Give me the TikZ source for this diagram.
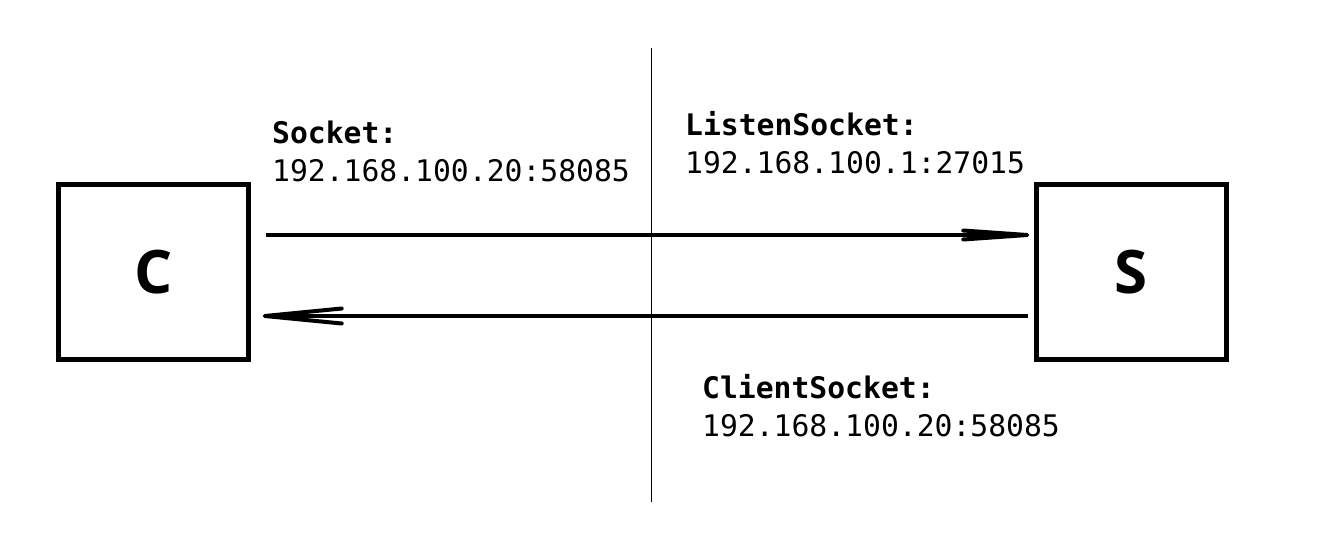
\documentclass[tikz,border=0pt]{standalone}
\usepackage{fontspec}
\setmonofont{DejaVu Sans Mono}
\newfontfamily\hostfont{Open Sans}
\usetikzlibrary{arrows.meta}
\tikzset{
  host/.style={draw,line width=4.5pt,minimum width=190pt,minimum height=175pt,inner sep=0pt,
    font=\hostfont\bfseries\fontsize{60}{60}\selectfont},
  addr/.style={anchor=base west,inner sep=0pt,align=left,
    font=\ttfamily\fontsize{29.7}{38}\selectfont},
  link/.style={line width=4pt}
}

\begin{document}
\begin{tikzpicture}[x=1pt,y=-1pt]
\useasboundingbox (0,0) rectangle (1334,549);
\node[host] (client) at (153.5,272) {C};
\node[host] (server) at (1131.5,272) {S};
\coordinate (divtop) at (651,48);
\coordinate (divbot) at (651,502);
\draw[line width=1pt] (divtop) -- (divbot);
% requests and replies
\draw[link,-{Straight Barb[length=64pt,width=9pt,round]},shorten <=15pt,shorten >=5pt]
  ([yshift=37pt]client.east) -- ([yshift=37pt]server.west);
\draw[link,-{Straight Barb[length=77pt,width=15pt,round]},shorten <=6pt,shorten >=12pt]
  ([yshift=-44pt]server.west) -- ([yshift=-44pt]client.east);
% socket addresses
\node[addr] (socket) at (272,181) {\textbf{Socket:}\\192.168.100.20:58085};
\node[addr] (listen) at (685,173) {\textbf{ListenSocket:}\\192.168.100.1:27015};
\node[addr] (clientsock) at (702,436) {\textbf{ClientSocket:}\\192.168.100.20:58085};
\end{tikzpicture}
\end{document}
